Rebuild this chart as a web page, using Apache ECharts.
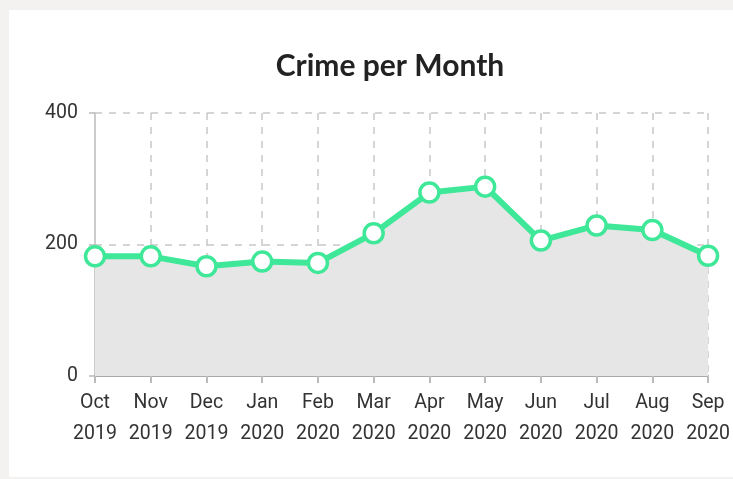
<!DOCTYPE html>
<html>
<head>
<meta charset="utf-8">
<script src="https://cdn.jsdelivr.net/npm/echarts@6/dist/echarts.min.js"></script>
<style>
  html, body { margin: 0; padding: 0; background: #f3f2f0; }
  .card { position: absolute; left: 9px; top: 10px; width: 740px; height: 467px; background: #fff; }
  #crime { position: absolute; left: 0; top: 0; width: 733px; height: 479px; }
</style>
</head>
<body>
<div class="card"></div>
<div id="crime"></div>
<script>
const months = ['Oct\n2019', 'Nov\n2019', 'Dec\n2019', 'Jan\n2020', 'Feb\n2020', 'Mar\n2020',
  'Apr\n2020', 'May\n2020', 'Jun\n2020', 'Jul\n2020', 'Aug\n2020', 'Sep\n2020']
const crimes = [182, 182, 167, 174, 172, 217, 279, 288, 206, 229, 222, 183]

const crimeChart = echarts.init(document.getElementById('crime'))
const option = {
  title: {
    text: 'Crime per Month',
    left: 385,
    top: 46,
    textAlign: 'center',
    textStyle: {
      fontFamily: 'Lato',
      fontWeight: 'bold',
      fontSize: 30,
      color: '#222'
    }
  },
  grid: {
    left: 95,
    right: 24,
    top: 113,
    bottom: 103
  },
  xAxis: {
    type: 'category',
    data: months,
    boundaryGap: false,
    axisLine: {
      lineStyle: { color: '#aaa', width: 2 }
    },
    axisTick: {
      interval: 0,
      length: 7,
      lineStyle: { color: '#bbb', width: 2 }
    },
    axisLabel: {
      interval: 0,
      hideOverlap: false,
      color: '#333',
      fontFamily: 'Roboto',
      fontSize: 19.5,
      lineHeight: 31,
      margin: 12
    },
    splitLine: {
      show: true,
      interval: 0,
      lineStyle: { color: '#c8c8c8', type: [7, 7], width: 1.5 }
    }
  },
  yAxis: {
    type: 'value',
    min: 0,
    max: 400,
    interval: 200,
    axisLine: {
      show: true,
      lineStyle: { color: '#cccccc', width: 2 }
    },
    axisTick: {
      show: true,
      length: 6,
      lineStyle: { color: '#bbb', width: 1.5 }
    },
    axisLabel: {
      color: '#333',
      fontFamily: 'Roboto',
      fontSize: 19.5,
      margin: 17
    },
    splitLine: {
      lineStyle: { color: '#c8c8c8', type: [7, 7], width: 1.5 }
    }
  },
  series: [
    {
      name: 'Crime',
      type: 'line',
      data: crimes,
      symbol: 'circle',
      symbolSize: 19,
      lineStyle: { color: '#3fe898', width: 6 },
      itemStyle: { color: '#fff', borderColor: '#3fe898', borderWidth: 3.5 },
      areaStyle: { color: '#e6e6e6', opacity: 1 },
      animation: false
    }
  ]
}
crimeChart.setOption(option)
</script>
</body>
</html>
